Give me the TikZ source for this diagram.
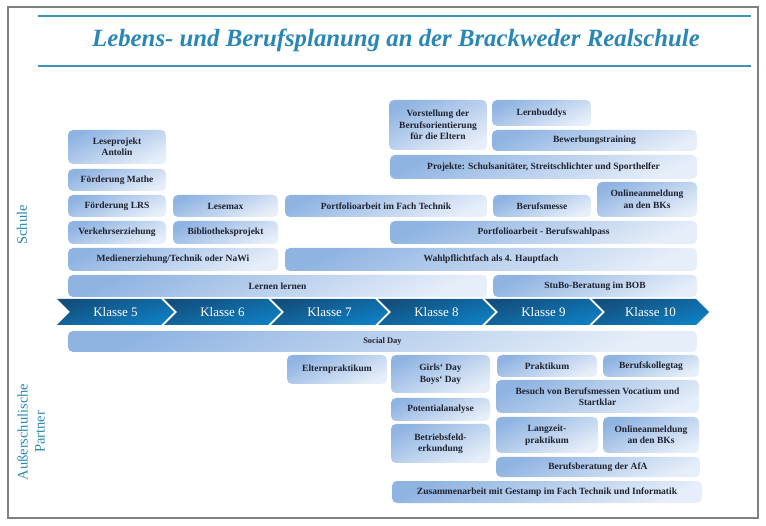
\documentclass[tikz,border=0pt]{standalone}
\usepackage{fontspec}
\setmainfont{Liberation Serif}

\definecolor{titelblau}{HTML}{2A87B5}
\definecolor{linienblau}{HTML}{3D94B8}
\definecolor{felddunkel}{HTML}{90B4E2}
\definecolor{feldhell}{HTML}{E6EEF9}
\definecolor{pfeildunkel}{HTML}{134E7C}
\definecolor{pfeilhell}{HTML}{0E80C4}
\definecolor{schrift}{HTML}{1F2230}

\begin{document}
\begin{tikzpicture}[x=1pt, y=-1pt,
    feld/.style 2 args={rounded corners=5pt, top color=felddunkel, bottom color=feldhell,
      shading angle=25, text=schrift, align=center, inner sep=1pt,
      font=\fontsize{9.5}{11.5}\selectfont\bfseries,
      minimum width=#1pt, minimum height=#2pt},
    seite/.style={text=titelblau, rotate=90, align=center, font=\fontsize{14.5}{17}\selectfont}]
  \useasboundingbox (0,0) rectangle (766,526);
  \draw[gray, line width=1.2pt] (8,7) rectangle (758,518);
  \draw[linienblau, line width=1.3pt] (38,16) -- (751,16) (38,66) -- (751,66);
  \node[text=titelblau, font=\fontsize{24.8}{28}\selectfont\bfseries\itshape] (titel) at (396,40)
    {Lebens- und Berufsplanung an der Brackweder Realschule};
  \node[seite] (schule) at (22,225) {Schule};
  \node[seite] (partner) at (31,432) {Außerschulische\\Partner};

  % Klassen
  \foreach \i in {0,...,5} {
    \pgfmathsetmacro{\xa}{57+107*\i}
    \shade[top color=pfeildunkel, bottom color=pfeilhell, shading angle=15]
      (\xa,299) -- (\xa+104,299) -- (\xa+117,312) -- (\xa+104,325) -- (\xa,325) -- (\xa+13,312) -- cycle;
    \pgfmathtruncatemacro{\k}{5+\i}
    \node[text=white, font=\fontsize{13}{15}\selectfont] (klasse\k) at (\xa+58.5,312) {Klasse \k};
  }

  % Schule
  \node[feld={98}{34}] (antolin) at (117,147) {Leseprojekt\\Antolin};
  \node[feld={98}{22}] (mathe) at (117,180) {Förderung Mathe};
  \node[feld={98}{22}] (lrs) at (117,206) {Förderung LRS};
  \node[feld={105}{22}] (lesemax) at (225.5,206) {Lesemax};
  \node[feld={98}{23}] (verkehr) at (117,232.5) {Verkehrserziehung};
  \node[feld={105}{23}] (biblio) at (225.5,232.5) {Bibliotheksprojekt};
  \node[feld={210}{23}] (medien) at (173,259.5) {Medienerziehung/Technik oder NaWi};
  \node[feld={419}{22}] (lernen) at (277.5,286) {Lernen lernen};
  \node[feld={202}{22}] (technik) at (386,206) {Portfolioarbeit im Fach Technik};
  \node[feld={412}{23}] (wahlpflicht) at (491,259.5) {Wahlpflichtfach als 4. Hauptfach};
  \node[feld={307}{23}] (wahlpass) at (543.5,232.5) {Portfolioarbeit - Berufswahlpass};
  \node[feld={98}{22}] (messe) at (542,206) {Berufsmesse};
  \node[feld={100}{35}] (online) at (647,199.5) {Onlineanmeldung\\an den BKs};
  \node[feld={307}{24}] (projekte) at (543.5,167) {Projekte: Schulsanitäter, Streitschlichter und Sporthelfer};
  \node[feld={98}{50}] (eltern) at (438,125) {Vorstellung der\\Berufsorientierung\\für die Eltern};
  \node[feld={99}{26}] (buddys) at (541.5,113) {Lernbuddys};
  \node[feld={205}{21}] (bewerbung) at (594.5,140.5) {Bewerbungstraining};
  \node[feld={204}{22}] (stubo) at (595,286) {StuBo-Beratung im BOB};

  % Partner
  \node[feld={629}{21}, font=\fontsize{8.5}{10}\selectfont\bfseries] (social) at (382.5,341.5) {Social Day};
  \node[feld={100}{29}] (elternpraktikum) at (337,369.5) {Elternpraktikum};
  \node[feld={99}{38}] (girls) at (440.5,374) {Girls‘ Day\\Boys‘ Day};
  \node[feld={99}{23}] (potential) at (440.5,409.5) {Potentialanalyse};
  \node[feld={99}{39}] (betrieb) at (440.5,443.5) {Betriebsfeld-\\erkundung};
  \node[feld={100}{22}] (praktikum) at (547,366) {Praktikum};
  \node[feld={96}{22}] (kolleg) at (651,366) {Berufskollegtag};
  \node[feld={203}{33}] (besuch) at (597.5,396.5) {Besuch von Berufsmessen Vocatium und\\Startklar};
  \node[feld={102}{36}] (langzeit) at (547,435) {Langzeit-\\praktikum};
  \node[feld={96}{36}] (online2) at (651,435) {Onlineanmeldung\\an den BKs};
  \node[feld={204}{20}] (afa) at (598,467) {Berufsberatung der AfA};
  \node[feld={310}{22}] (gestamp) at (547,492) {Zusammenarbeit mit Gestamp im Fach Technik und Informatik};
\end{tikzpicture}
\end{document}
